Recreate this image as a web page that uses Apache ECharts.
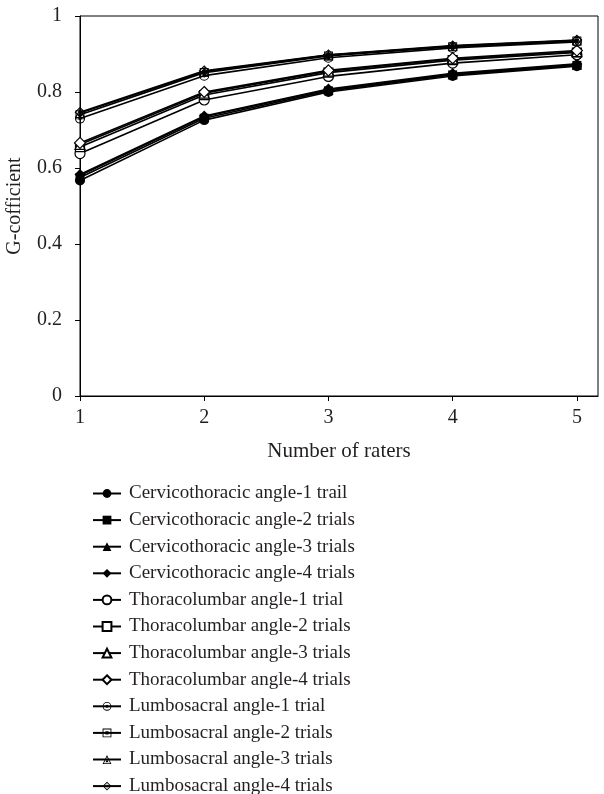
<!DOCTYPE html>
<html>
<head>
<meta charset="utf-8">
<script src="https://cdn.jsdelivr.net/npm/echarts@6/dist/echarts.min.js"></script>
<style>
  html, body { margin: 0; padding: 0; background: #fff; }
  #chart { width: 604px; height: 794px; }
</style>
</head>
<body>
<div id="chart"></div>
<script>
// number of raters (x)
const raters = [1, 2, 3, 4, 5]
const yTicks = [0, 0.2, 0.4, 0.6, 0.8, 1]

const seriesNames = [
  'Cervicothoracic angle-1 trail',
  'Cervicothoracic angle-2 trials',
  'Cervicothoracic angle-3 trials',
  'Cervicothoracic angle-4 trials',
  'Thoracolumbar angle-1 trial',
  'Thoracolumbar angle-2 trials',
  'Thoracolumbar angle-3 trials',
  'Thoracolumbar angle-4 trials',
  'Lumbosacral angle-1 trial',
  'Lumbosacral angle-2 trials',
  'Lumbosacral angle-3 trials',
  'Lumbosacral angle-4 trials'
]

// G-coefficients
const cervico1 = [0.567, 0.726, 0.800, 0.842, 0.868]
const cervico2 = [0.575, 0.731, 0.803, 0.845, 0.870]
const cervico3 = [0.580, 0.735, 0.806, 0.847, 0.872]
const cervico4 = [0.583, 0.737, 0.808, 0.849, 0.874]
const thoraco1 = [0.638, 0.779, 0.841, 0.876, 0.898]
const thoraco2 = [0.655, 0.792, 0.851, 0.884, 0.904]
const thoraco3 = [0.662, 0.797, 0.855, 0.887, 0.906]
const thoraco4 = [0.666, 0.800, 0.857, 0.889, 0.909]
const lumbo1 = [0.730, 0.843, 0.890, 0.916, 0.932]
const lumbo2 = [0.740, 0.851, 0.895, 0.919, 0.934]
const lumbo3 = [0.745, 0.854, 0.897, 0.921, 0.936]
const lumbo4 = [0.747, 0.856, 0.898, 0.922, 0.937]

const allValues = [cervico1, cervico2, cervico3, cervico4, thoraco1, thoraco2, thoraco3, thoraco4, lumbo1, lumbo2, lumbo3, lumbo4]

// marker shapes: filled / hollow / hollow with dot
const dotCircle = 'path://M10 0A10 10 0 1 1 10 20A10 10 0 1 1 10 0Z M10 2A8 8 0 1 0 10 18A8 8 0 1 0 10 2Z M10 6.5A3.5 3.5 0 1 1 10 13.5A3.5 3.5 0 1 1 10 6.5Z'
const dotSquare = 'path://M0 0H20V20H0Z M2 2V18H18V2Z M6.5 6.5H13.5V13.5H6.5Z'
const dotTriangle = 'path://M10 0L20 20L0 20Z M10 4.5L2.9 18.3L17.1 18.3Z M10 9.5L13.5 16L6.5 16Z'
const dotDiamond = 'path://M10 0L20 10L10 20L0 10Z M10 2.8L2.8 10L10 17.2L17.2 10Z M10 6.3L13.7 10L10 13.7L6.3 10Z'

const symbols = ['circle', 'rect', 'triangle', 'diamond',
  'circle', 'rect', 'triangle', 'diamond',
  dotCircle, dotSquare, dotTriangle, dotDiamond]
const symbolSizes = [10, 9, 10, 11, 10, 9, 10, 11, 10, 9, 10, 11]

const font = '"Liberation Serif", "DejaVu Serif", serif'
const textColor = '#231f20'

const series = seriesNames.map((name, i) => {
  const hollow = i >= 4 && i < 8
  return {
    name,
    type: 'line',
    data: raters.map((x, j) => [x, allValues[i][j]]),
    symbol: symbols[i],
    symbolSize: symbolSizes[i],
    symbolKeepAspect: true,
    showAllSymbol: true,
    lineStyle: { color: '#000', width: 1.6 },
    itemStyle: hollow
      ? { color: '#fff', borderColor: '#000', borderWidth: 1.2 }
      : { color: '#000', borderWidth: 0 },
    emphasis: { disabled: true },
    z: 3
  }
})

const chart = echarts.init(document.getElementById('chart'))
chart.setOption({
  animation: false,
  textStyle: { fontFamily: font },
  grid: {
    left: 80, top: 16, right: 6, height: 380,
    outerBoundsMode: 'none',
    containLabel: false,
    show: true, borderColor: '#000', borderWidth: 1
  },
  xAxis: {
    type: 'value',
    min: 1,
    max: 5.17,
    interval: 1,
    name: 'Number of raters',
    nameLocation: 'middle',
    nameGap: 45,
    nameTextStyle: { fontSize: 21, color: textColor, fontFamily: font },
    axisLine: { lineStyle: { color: '#000', width: 1 } },
    axisTick: { show: true, length: 5, lineStyle: { color: '#000' } },
    axisLabel: {
      fontSize: 20, color: textColor, fontFamily: font, margin: 12,
      showMaxLabel: false,
      formatter: v => (Number.isInteger(v) ? String(v) : '')
    },
    splitLine: { show: false }
  },
  yAxis: {
    type: 'value',
    min: yTicks[0],
    max: yTicks[yTicks.length - 1],
    interval: 0.2,
    name: 'G-cofficient',
    nameLocation: 'middle',
    nameGap: 55,
    nameTextStyle: { fontSize: 20, color: textColor, fontFamily: font },
    axisLine: { show: true, lineStyle: { color: '#000', width: 1 } },
    axisTick: { show: true, length: 5, lineStyle: { color: '#000' } },
    axisLabel: {
      fontSize: 20, color: textColor, fontFamily: font, margin: 18,
      formatter: v => String(Math.round(v * 10) / 10)
    },
    splitLine: { show: false }
  },
  legend: {
    orient: 'vertical',
    left: 92,
    top: 484,
    height: 340,
    padding: 0,
    itemWidth: 28,
    itemHeight: 11,
    itemGap: 7.6,
    textStyle: {
      fontSize: 19, color: textColor, fontFamily: font,
      padding: [0, 0, 0, 3]
    },
    data: seriesNames
  },
  series
})
</script>
</body>
</html>
